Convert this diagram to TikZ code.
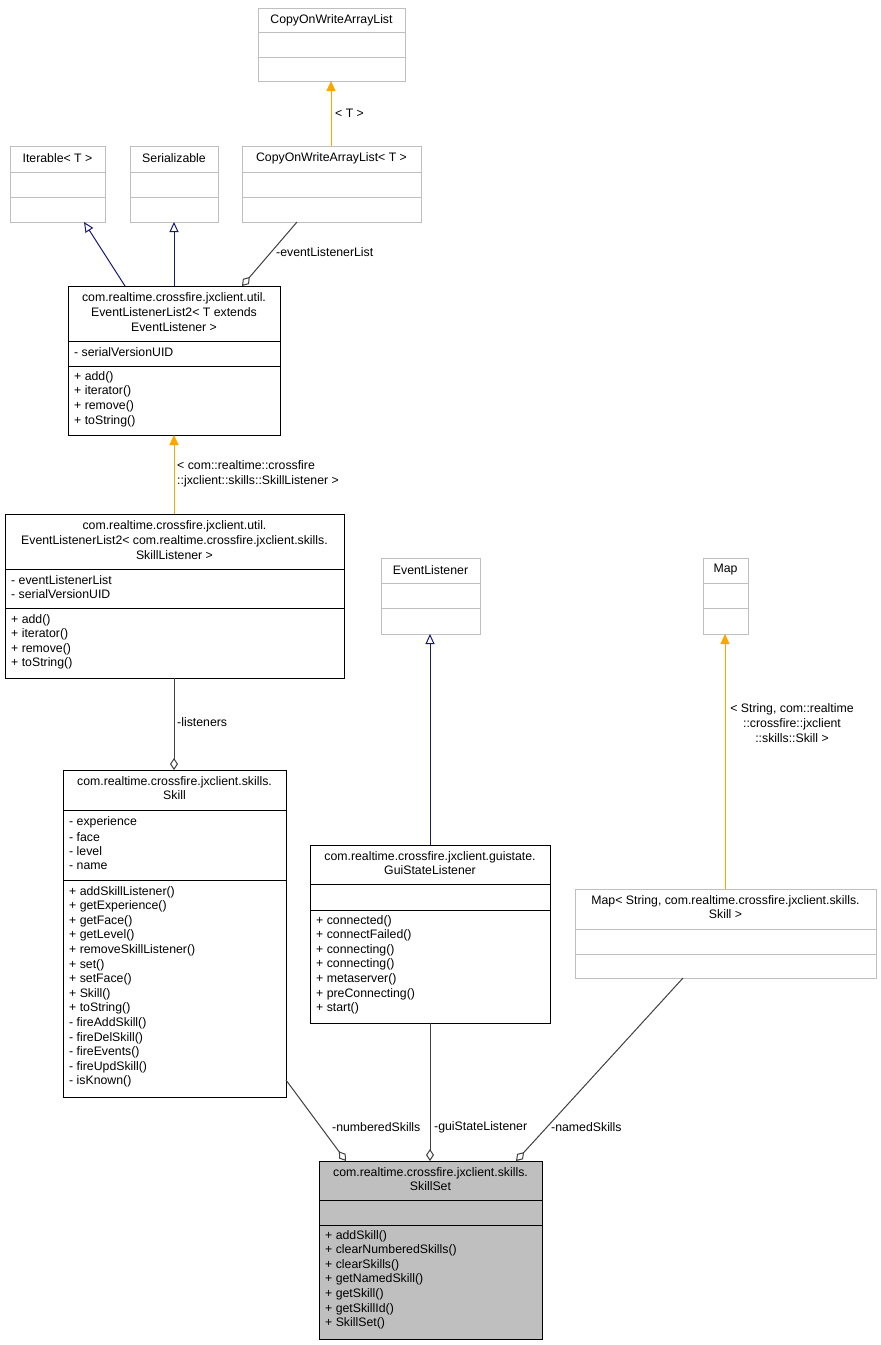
\documentclass[tikz,border=0pt]{standalone}
\usepackage{fontspec}
\setmainfont{Liberation Sans}
\usetikzlibrary{arrows.meta}
\definecolor{gb}{HTML}{BFBFBF}
\definecolor{ln}{HTML}{404040}
\definecolor{nv}{HTML}{191970}
\definecolor{org}{HTML}{FFA500}
\tikzset{
 x=1pt,y=-1pt,
 t/.style={font=\fontsize{12.3}{14.6}\selectfont,inner sep=0pt},
 lt/.style={t,anchor=west},
 box/.style={draw=#1,line width=0.8pt},
 gen/.style={draw=nv,line width=1pt,-{Triangle[open,length=10,width=9]}},
 tmpl/.style={draw=org,line width=1pt,-{Triangle[length=10,width=9,fill=org]}},
 agg/.style={draw=ln,line width=1pt,-{Diamond[open,length=12,width=8]}},
}
\newcommand\cbox[7]{\path[box=#6,fill=#7] (#2,#3) rectangle (#4,#5);
 \coordinate (#1-nw) at (#2,#3); \coordinate (#1-se) at (#4,#5);}
\newcommand\hl[4]{\draw[#4,line width=0.8pt] (#1,#3) -- (#2,#3);}
\newcommand\items[4]{\foreach \s [count=\i from 0] in {#4} {\node[lt] at (#1,#2+\i*#3) {\s};}}
\begin{document}
\begin{tikzpicture}
\useasboundingbox[fill=white] (0,0) rectangle (881,1345);
\cbox{cowa}{258}{8}{405}{81}{gb}{white}
\hl{258}{405}{32}{gb}\hl{258}{405}{57}{gb}
\node[t] (cowaT) at (331.5,20) {CopyOnWriteArrayList};
\cbox{it}{10}{146}{105}{222}{gb}{white}
\hl{10}{105}{172}{gb}\hl{10}{105}{197}{gb}
\node[t] (itT) at (57.5,158) {Iterable< T >};
\cbox{ser}{130}{146}{218}{222}{gb}{white}
\hl{130}{218}{172}{gb}\hl{130}{218}{197}{gb}
\node[t] (serT) at (174,158) {Serializable};
\cbox{cowt}{242}{146}{421}{222}{gb}{white}
\hl{242}{421}{172}{gb}\hl{242}{421}{197}{gb}
\node[t] (cowtT) at (331.5,158) {CopyOnWriteArrayList< T >};
\cbox{el}{68}{286}{280}{435}{black}{white}
\hl{68}{280}{341}{black}\hl{68}{280}{366}{black}
\node[t,align=center] (elT) at (174,312) {com.realtime.crossfire.jxclient.util.\\EventListenerList2< T extends\\EventListener >};
\node[lt] at (74,352) {- serialVersionUID};
\items{74}{377}{14.7}{+ add(),+ iterator(),+ remove(),+ toString()}
\cbox{els}{5}{514}{344}{678}{black}{white}
\hl{5}{344}{569}{black}\hl{5}{344}{608}{black}
\node[t,align=center] (elsT) at (174.5,540) {com.realtime.crossfire.jxclient.util.\\EventListenerList2< com.realtime.crossfire.jxclient.skills.\\SkillListener >};
\items{11}{580}{14.5}{- eventListenerList,- serialVersionUID}
\items{11}{620}{14.5}{+ add(),+ iterator(),+ remove(),+ toString()}
\cbox{ev}{381}{558}{480}{634}{gb}{white}
\hl{381}{480}{583}{gb}\hl{381}{480}{608}{gb}
\node[t] (evT) at (430.5,570) {EventListener};
\cbox{map}{703}{558}{748}{634}{gb}{white}
\hl{703}{748}{583}{gb}\hl{703}{748}{608}{gb}
\node[t] (mapT) at (725.5,570) {Map};
\cbox{sk}{63}{770}{286}{1097}{black}{white}
\hl{63}{286}{810}{black}\hl{63}{286}{880}{black}
\node[t,align=center] (skT) at (174.5,788) {com.realtime.crossfire.jxclient.skills.\\Skill};
\items{69}{822}{14.6}{- experience,- face,- level,- name}
\items{69}{892}{14.6}{+ addSkillListener(),+ getExperience(),+ getFace(),+ getLevel(),+ removeSkillListener(),+ set(),+ setFace(),+ Skill(),+ toString(),- fireAddSkill(),- fireDelSkill(),- fireEvents(),- fireUpdSkill(),- isKnown()}
\cbox{gsl}{310}{845}{550}{1023}{black}{white}
\hl{310}{550}{884}{black}\hl{310}{550}{910}{black}
\node[t,align=center] (gslT) at (430,863) {com.realtime.crossfire.jxclient.guistate.\\GuiStateListener};
\items{316}{921}{14.6}{+ connected(),+ connectFailed(),+ connecting(),+ connecting(),+ metaserver(),+ preConnecting(),+ start()}
\cbox{ms}{575}{889}{876}{978}{gb}{white}
\hl{575}{876}{929}{gb}\hl{575}{876}{954}{gb}
\node[t,align=center] (msT) at (725.5,907) {Map< String, com.realtime.crossfire.jxclient.skills.\\Skill >};
\cbox{ss}{319}{1161}{542}{1339}{black}{gb}
\hl{319}{542}{1200}{black}\hl{319}{542}{1225}{black}
\node[t,align=center] (ssT) at (430.5,1179) {com.realtime.crossfire.jxclient.skills.\\SkillSet};
\items{325}{1236}{14.6}{+ addSkill(),+ clearNumberedSkills(),+ clearSkills(),+ getNamedSkill(),+ getSkill(),+ getSkillId(),+ SkillSet()}
\coordinate (a1) at (331,146); \coordinate (a2) at (331,81);
\draw[tmpl] (a1) -- (a2); \node[lt] at (335,113) {< T >};
\coordinate (b1) at (125,286); \coordinate (b2) at (84,222);
\draw[gen] (b1) -- (b2);
\coordinate (c1) at (174,286); \coordinate (c2) at (174,222);
\draw[gen] (c1) -- (c2);
\coordinate (d1) at (297,222); \coordinate (d2) at (242,286);
\draw[agg] (d1) -- (d2); \node[lt] at (276,252) {-eventListenerList};
\coordinate (e1) at (174,514); \coordinate (e2) at (174,435);
\draw[tmpl] (e1) -- (e2);
\node[t,align=left,anchor=west] at (177,474) {< com::realtime::crossfire\\::jxclient::skills::SkillListener >};
\coordinate (f1) at (174,678); \coordinate (f2) at (174,770);
\draw[agg] (f1) -- (f2); \node[lt] at (177,722) {-listeners};
\coordinate (g1) at (430,845); \coordinate (g2) at (430,634);
\draw[gen] (g1) -- (g2);
\coordinate (h1) at (725,889); \coordinate (h2) at (725,634);
\draw[tmpl] (h1) -- (h2);
\node[t,align=center] at (792,723) {< String, com::realtime\\::crossfire::jxclient\\::skills::Skill >};
\coordinate (i1) at (286,1080); \coordinate (i2) at (346,1161);
\draw[agg] (i1) -- (i2); \node[lt] at (332,1127) {-numberedSkills};
\coordinate (j1) at (430,1023); \coordinate (j2) at (430,1161);
\draw[agg] (j1) -- (j2); \node[lt] at (434,1127) {-guiStateListener};
\coordinate (k1) at (683,978); \coordinate (k2) at (516,1161);
\draw[agg] (k1) -- (k2); \node[lt] at (551,1127) {-namedSkills};
\end{tikzpicture}
\end{document}
